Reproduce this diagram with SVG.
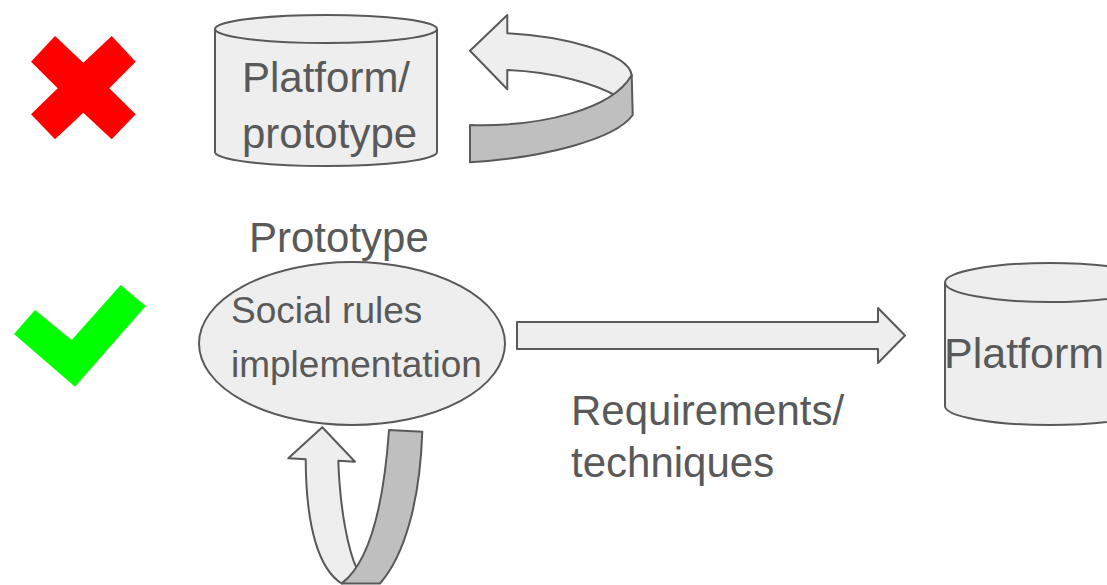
<svg xmlns="http://www.w3.org/2000/svg" width="1107" height="585" viewBox="0 0 1107 585">
  <style>
    .shape { fill: #eeeeee; stroke: #595959; stroke-width: 2; stroke-linejoin: round; }
    .edge { fill: none; stroke: #595959; stroke-width: 2; }
    .dark { fill: #bfbfbf; stroke: #595959; stroke-width: 2; stroke-linejoin: round; }
    .label { font-family: "Liberation Sans", Arial, sans-serif; fill: #595959; }
    .big { font-size: 42px; }
    .mid { font-size: 37px; }
  </style>
  <rect width="1107" height="585" fill="#ffffff"/>

  <!-- status marks -->
  <g id="mark-cross">
    <polygon fill="#ff0000" points="31,61.7 55,36 83.3,62.7 111.7,36 135.7,61.7 109.3,88.3 135.7,114.3 111.7,139.3 83.3,112.7 55,139.3 31,114.3 57.7,88.3"/>
  </g>
  <g id="mark-check">
    <polygon fill="#00ff00" points="14,334 35,310 71.7,340 120.7,285 145.7,306 75,386.7"/>
  </g>

  <!-- combined platform/prototype store -->
  <g id="node-platform-prototype">
    <path class="shape" d="M215,29 A111,14 0 0 1 437,29 L437,152 A111,14 0 0 1 215,152 Z"/>
    <path class="edge" d="M215,29 A111,14 0 0 0 437,29"/>
    <text class="label big" x="242" y="92">Platform/</text>
    <text class="label big" x="242" y="148">prototype</text>
  </g>

  <!-- prototype ellipse -->
  <g id="node-prototype">
    <text class="label big" x="249" y="252">Prototype</text>
    <ellipse class="shape" cx="352" cy="343.5" rx="153" ry="81.5"/>
    <text class="label mid" x="231" y="323">Social rules</text>
    <text class="label mid" x="231" y="377">implementation</text>
  </g>

  <!-- separate platform store -->
  <g id="node-platform">
    <path class="shape" d="M945,282.5 A105,19.5 0 0 1 1155,282.5 L1155,406 A105,19 0 0 1 945,406 Z"/>
    <path class="edge" d="M945,282.5 A105,19.5 0 0 0 1155,282.5"/>
    <text class="label big" x="944" y="368" style="font-size:43px">Platform</text>
  </g>

  <g id="connectors">
    <!-- self loop on the combined store -->
    <g id="loop-top">
      <path class="shape" d="M507.3,33.3 C560,36 628,52 631.7,75 C631,83 624,91 616.7,96 C595,84 555,72 507.3,70 L507.3,89.3 L470,50.7 L507.3,15 Z"/>
      <path class="dark" d="M470,125 C540,127 612,110 631.7,75 L632.7,115 C615,140 540,158 470,162.3 Z"/>
    </g>
    <!-- self loop on the prototype -->
    <g id="loop-bottom">
      <path class="shape" d="M305.7,459.3 C306,530 320,570 341.7,583.5 L357.3,570 C348,550 340,510 338.3,460.7 L355,461.7 L322.3,427.3 L288.3,458.3 Z"/>
      <path class="dark" d="M389,430 L422.3,431.7 C420,500 405,555 380,583.5 L341.7,583.5 C362,568 382,530 389,430 Z"/>
    </g>
    <!-- prototype to platform -->
    <g id="arrow-transfer">
      <path class="shape" d="M517,322 L878,322 L878,308 L905,335.5 L878,363 L878,349 L517,349 Z"/>
    </g>
  </g>

  <text class="label big" x="571" y="425">Requirements/</text>
  <text class="label big" x="571" y="477">techniques</text>
</svg>
